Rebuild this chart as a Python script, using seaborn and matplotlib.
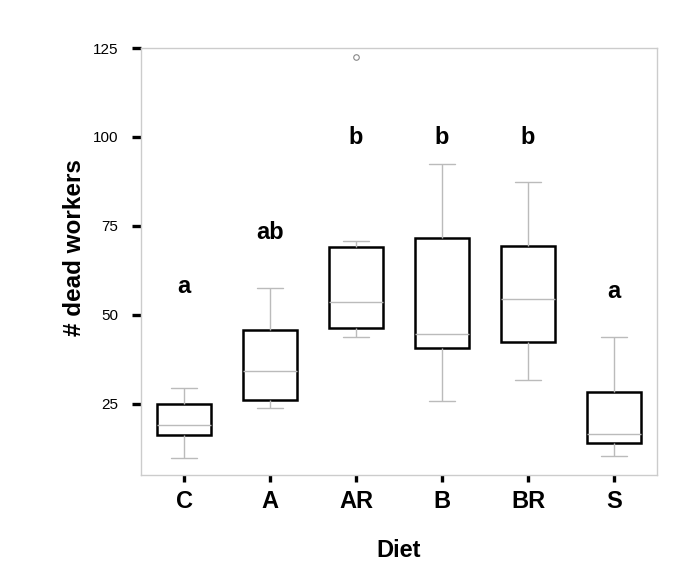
# Dead workers per diet - boxplot
import pandas as pd
import numpy as np
import matplotlib
matplotlib.use('Agg')
import matplotlib.pyplot as plt
import seaborn as sns

# Values (min, Q1, median, Q3, max per diet)
diets = ['C', 'A', 'AR', 'B', 'BR', 'S']
c_vals = [9.6, 16.3, 19.1, 25.0, 29.5]
a_vals = [23.9, 26.1, 34.3, 45.8, 57.6]
ar_vals = [43.8, 46.3, 53.7, 69.1, 70.8]
b_vals = [25.8, 40.7, 44.7, 71.6, 92.4]
br_vals = [31.7, 42.4, 54.5, 69.4, 87.4]
s_vals = [10.4, 13.8, 16.6, 28.4, 43.8]

# single outlier shown above AR
outlier_diet = ['AR']
outlier_vals = [122.5]

# significance letters
sig_letters = ['a', 'ab', 'b', 'b', 'b', 'a']
letter_y = [56.2, 71.3, 98.0, 98.0, 98.0, 54.8]

yticks = [25, 50, 75, 100, 125]

# Build long table
groups = [c_vals, a_vals, ar_vals, b_vals, br_vals, s_vals]
df = pd.DataFrame({
    'Diet': np.repeat(diets, [len(g) for g in groups]),
    'dead': np.concatenate(groups),
})
out_df = pd.DataFrame({'Diet': outlier_diet, 'dead': outlier_vals})

sns.set_theme(style='white')
plt.rcParams['font.family'] = ['Liberation Sans', 'DejaVu Sans']
plt.rcParams['text.color'] = 'black'
plt.rcParams['axes.labelcolor'] = 'black'
plt.rcParams['xtick.color'] = 'black'
plt.rcParams['ytick.color'] = 'black'

fig = plt.figure(figsize=(6.85, 5.79), dpi=100)
ax = fig.add_axes([0.206, 0.180, 0.753, 0.737])

grey = '#BBBBBB'
sns.boxplot(data=df, x='Diet', y='dead', order=diets, ax=ax,
            color='white', linecolor='black', linewidth=1.8, width=0.62,
            showfliers=False,
            whiskerprops=dict(color=grey, linewidth=1),
            capprops=dict(color=grey, linewidth=1),
            medianprops=dict(color=grey, linewidth=1))

sns.stripplot(data=out_df, x='Diet', y='dead', order=diets, ax=ax,
              jitter=False, marker='o', size=4, color='white',
              edgecolor='#888888', linewidth=0.8)

for i, lab in enumerate(sig_letters):
    ax.text(i, letter_y[i], lab, ha='center', va='baseline',
            fontsize=17, fontweight='bold', color='black')

ax.set_xlim(-0.5, 5.5)
ax.set_ylim(5, 125)
ax.set_yticks(yticks)
ax.set_yticklabels([str(t) for t in yticks])

for s in ax.spines.values():
    s.set_color('#CCCCCC')
    s.set_linewidth(1)

ax.tick_params(axis='y', which='major', left=True, length=6.5, width=2.4,
               color='black', labelcolor='black', direction='out', pad=10,
               labelsize=11)
ax.tick_params(axis='x', which='major', bottom=True, length=5, width=2.4,
               color='black', labelcolor='black', direction='out', pad=6,
               labelsize=17)
for t in ax.get_xticklabels():
    t.set_fontweight('bold')

ax.set_xlabel('Diet', fontsize=17, fontweight='bold', labelpad=19, color='black')
ax.set_ylabel('# dead workers', fontsize=17.5, fontweight='bold', labelpad=5,
              color='black')
ax.yaxis.label.set_y(0.532)

fig.savefig('out.png', dpi=100)
